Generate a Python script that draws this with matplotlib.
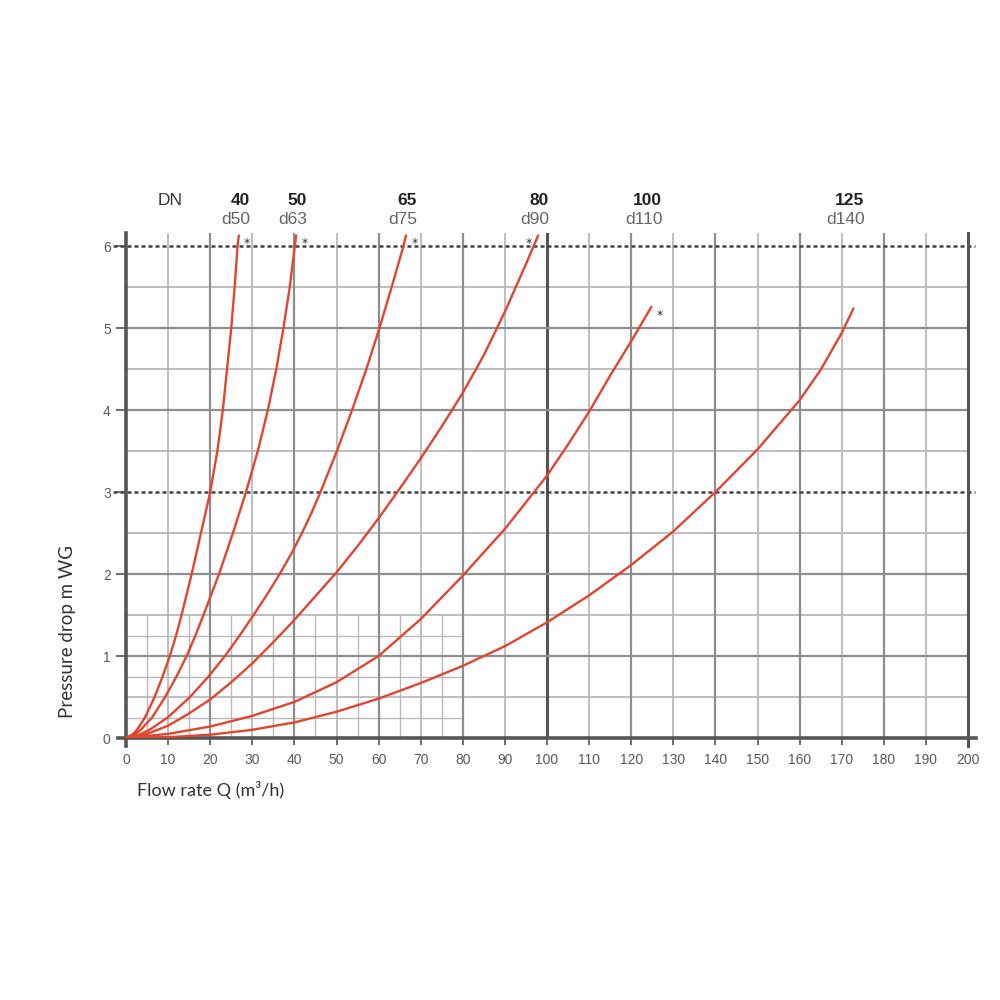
import matplotlib
matplotlib.use("Agg")
import matplotlib.pyplot as plt
import numpy as np

# steep curves: flow rate Q (m3/h) read at given pressure drops (m WG)
p_dn40 = [0, 0.05, 0.1, 0.25, 0.5, 0.75, 1, 1.25, 1.5, 2, 2.5, 3, 3.5, 4, 4.5, 5, 5.5, 6, 6.13]
q_dn40 = [0, 1.7, 2.6, 4.5, 6.8, 8.7, 10.4, 11.9, 13.2, 15.6, 17.8, 20.0, 21.7, 23.0, 24.0, 25.0, 25.8, 26.5, 26.8]

p_dn50 = [0, 0.05, 0.1, 0.25, 0.5, 0.75, 1, 1.25, 1.5, 2, 2.5, 3, 3.5, 4, 4.5, 5, 5.5, 6, 6.13]
q_dn50 = [0, 2.2, 3.5, 6.2, 9.3, 12.0, 14.4, 16.5, 18.4, 22.1, 25.4, 28.5, 31.3, 33.7, 35.7, 37.4, 38.9, 40.1, 40.4]

p_dn65 = [0, 0.05, 0.1, 0.25, 0.5, 0.75, 1, 1.25, 1.5, 1.75, 2, 2.25, 2.5, 2.75, 3, 3.5, 4, 4.5, 5, 5.5, 6, 6.13]
q_dn65 = [0, 3.6, 5.6, 9.9, 15.2, 19.6, 23.5, 27.0, 30.3, 33.5, 36.5, 39.3, 41.8, 44.1, 46.2, 50.1, 53.7, 57.1, 60.2, 63.1, 65.9, 66.5]

# flatter curves: pressure drop read at given flow rates
q_dn80 = [0, 5, 10, 15, 20, 25, 30, 35, 40, 45, 50, 55, 60, 65, 70, 75, 80, 85, 90, 95, 97.9]
p_dn80 = [0, 0.05, 0.15, 0.3, 0.47, 0.68, 0.91, 1.17, 1.44, 1.73, 2.02, 2.34, 2.68, 3.04, 3.41, 3.8, 4.21, 4.67, 5.2, 5.78, 6.13]

q_dn100 = [0, 10, 20, 30, 40, 50, 60, 70, 80, 90, 100, 105, 110, 115, 120, 124.8]
p_dn100 = [0, 0.05, 0.14, 0.27, 0.44, 0.68, 1.0, 1.45, 1.98, 2.55, 3.2, 3.58, 3.98, 4.42, 4.84, 5.26]

q_dn125 = [0, 10, 20, 30, 40, 50, 60, 70, 80, 90, 100, 110, 120, 130, 140, 150, 160, 165, 170, 172.8]
p_dn125 = [0, 0.01, 0.04, 0.1, 0.19, 0.32, 0.48, 0.67, 0.88, 1.12, 1.41, 1.74, 2.11, 2.52, 3.0, 3.52, 4.12, 4.49, 4.94, 5.24]

dn_labels = ["40", "50", "65", "80", "100", "125"]
d_labels = ["d50", "d63", "d75", "d90", "d110", "d140"]
star = [True, True, True, True, True, False]

curves = [(q_dn40, p_dn40), (q_dn50, p_dn50), (q_dn65, p_dn65), (q_dn80, p_dn80),
          (q_dn100, p_dn100), (q_dn125, p_dn125)]

red = "#e2452f"
light = "#b9b9b9"
mid = "#8e8e8e"
dark = "#555555"

fig = plt.figure(figsize=(10, 10), dpi=100)
ax = fig.add_axes([0.126, 0.262, 0.842, 0.505])
ax.set_xlim(0, 200)
ax.set_ylim(0, 6.16)
for s in ax.spines.values():
    s.set_visible(False)

# fine grid in the lower left corner
ax.vlines(np.arange(5, 80, 10), 0, 1.5, color=light, lw=1.0, zorder=1)
ax.hlines([0.25, 0.75, 1.25], 0, 80, color=light, lw=1.0, zorder=1)

# main grid
for q in range(10, 200, 10):
    if q % 100 == 0:
        ax.axvline(q, color=dark, lw=2.2, zorder=2)
    elif q % 20 == 0:
        ax.axvline(q, color=mid, lw=1.6, zorder=2)
    else:
        ax.axvline(q, color=light, lw=1.3, zorder=1)
for p in np.arange(0.5, 6.0, 0.5):
    if p == 3:
        continue
    if p % 1 == 0:
        ax.axhline(p, color=mid, lw=1.6, zorder=2)
    else:
        ax.axhline(p, color=light, lw=1.3, zorder=1)

# dotted reference lines at 3 and 6
trans = ax.get_yaxis_transform()
for p in [3, 6]:
    ax.plot([-0.016, 1.008], [p, p], transform=trans, color="#444444", lw=1.8,
            linestyle=(0, (1.6, 1.2)), clip_on=False, zorder=3)

# frame: left axis, bottom axis, right border
ax.plot([0, 0], [-0.1, 6.16], color=dark, lw=2.6, clip_on=False, zorder=4)
ax.plot([200, 200], [-0.1, 6.16], color=dark, lw=2.2, clip_on=False, zorder=4)
ax.plot([-2, 202], [0, 0], color=dark, lw=2.6, clip_on=False, zorder=4)

# curves
for (q, p), star_on, i in zip(curves, star, range(6)):
    ax.plot(q, p, color=red, lw=1.7, zorder=5, solid_capstyle="round", solid_joinstyle="round")
    if star_on:
        dx = -7 if i == 3 else 6
        ax.annotate("*", xy=(q[-1], p[-1]), xytext=(dx, -6), textcoords="offset points",
                    ha="center", va="center", fontsize=9, color="#333333", annotation_clip=False)
    ax.text(q[-1] + 2.6, 6.56, dn_labels[i], ha="right", va="center", fontsize=12.5,
            fontweight="bold", color="#222222", family="Liberation Sans", clip_on=False)
    ax.text(q[-1] + 2.6, 6.32, d_labels[i], ha="right", va="center", fontsize=12.5,
            color="#666666", family="Liberation Sans", clip_on=False)
ax.text(10.4, 6.56, "DN", ha="center", va="center", fontsize=12.5, color="#333333",
        family="Liberation Sans", clip_on=False)

# ticks
ax.set_xticks(np.arange(0, 201, 10))
ax.set_yticks(np.arange(0, 7, 1))
ax.tick_params(axis="x", length=5, width=1.2, color=dark, pad=6, labelsize=10, labelcolor="#5a5a5a")
ax.tick_params(axis="y", length=7, width=1.2, color=dark, pad=4, labelsize=10, labelcolor="#5a5a5a")
for lab in ax.get_xticklabels() + ax.get_yticklabels():
    lab.set_family("Liberation Sans")

fig.text(0.137, 0.21, "Flow rate Q (m³/h)", ha="left", va="center", fontsize=13,
         color="#333333", family=["Lato", "DejaVu Sans"])
fig.text(0.068, 0.368, "Pressure drop m WG", ha="center", va="center", rotation=90,
         fontsize=13.5, color="#333333", family=["Lato", "DejaVu Sans"])

fig.savefig("out.png", dpi=100, facecolor="white")
